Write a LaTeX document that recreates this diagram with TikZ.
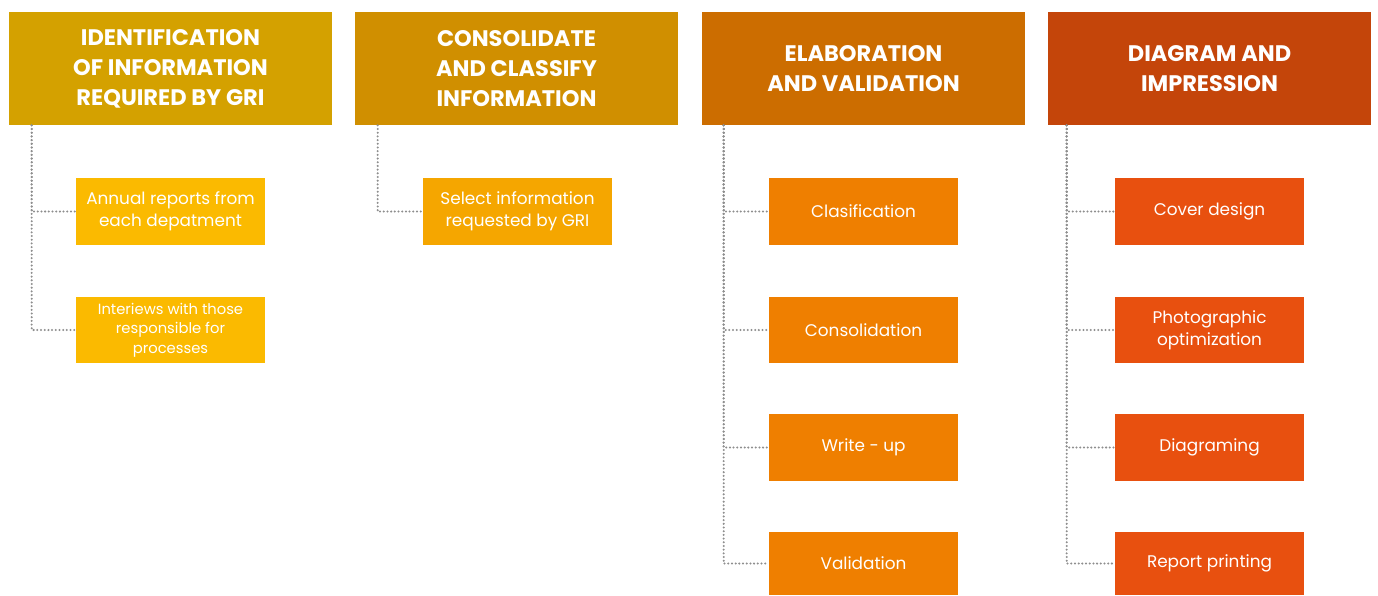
\documentclass[tikz,border=0pt]{standalone}
\usepackage{fontspec}
\setmainfont{Poppins}
\usepackage{tikz}

\definecolor{headA}{HTML}{D4A100}
\definecolor{headB}{HTML}{D08F00}
\definecolor{headC}{HTML}{CC6D00}
\definecolor{headD}{HTML}{C4450A}
\definecolor{subA}{HTML}{FBBA00}
\definecolor{subB}{HTML}{F5A600}
\definecolor{subC}{HTML}{EF7F00}
\definecolor{subD}{HTML}{E8500F}
\definecolor{dotgray}{HTML}{8E8E8E}

\tikzset{
  head/.style={minimum width=6.46cm, minimum height=2.26cm, inner sep=0pt,
    text=white, align=center, font=\fontsize{12.8}{17}\selectfont\bfseries},
  sub/.style={minimum width=3.78cm, minimum height=1.34cm, inner sep=0pt,
    text=white, align=center, font=\fontsize{9.6}{12.5}\selectfont},
  dotline/.style={dotgray, line width=1.3pt, line cap=round, dash pattern=on 0pt off 2.1pt}
}

\begin{document}
\begin{tikzpicture}[x=0.02cm,y=-0.02cm]
\useasboundingbox (0,0) rectangle (1378,595);
\def\ra{211.5} %row 1
\def\rb{330}   %row 2
\def\rc{447.5} %row 3
\def\rd{563.5} %row 4

% headers
\node[head, fill=headA] (h1) at (170.5,68.5) {IDENTIFICATION\\OF INFORMATION\\REQUIRED BY GRI};
\node[head, fill=headB] (h2) at (516.5,68.5) {CONSOLIDATE\\AND CLASSIFY\\INFORMATION};
\node[head, fill=headC] (h3) at (863.5,68.5) {ELABORATION\\AND VALIDATION};
\node[head, fill=headD] (h4) at (1209.5,68.5) {DIAGRAM AND\\IMPRESSION};

% first column
\node[sub, fill=subA] (a1) at (170.5,\ra) {Annual reports from\\each depatment};
\node[sub, fill=subA, font=\fontsize{8.4}{11}\selectfont] (a2) at (170.5,\rb) {Interiews with those\\responsible for\\processes};

% second column
\node[sub, fill=subB] (b1) at (517.5,\ra) {Select information\\requested by GRI};

% third and fourth column
\foreach \y/\t [count=\i] in {\ra/Clasification, \rb/Consolidation, \rc/Write - up}
  \node[sub, fill=subC] (c\i) at (863.5,\y) {\t};
\node[sub, fill=subC, minimum height=1.26cm] (c4) at (863.5,\rd) {Validation};

\node[sub, fill=subD] (d1) at (1209.5,\ra) {Cover design};
\node[sub, fill=subD] (d2) at (1209.5,\rb) {Photographic\\optimization};
\node[sub, fill=subD] (d3) at (1209.5,\rc) {Diagraming};
\node[sub, fill=subD, minimum height=1.26cm] (d4) at (1209.5,\rd) {Report printing};

% connectors
\foreach \n in {1,2}
  \draw[dotline] ([xshift=0.46cm]h1.south west) |- (a\n.west);
\draw[dotline] ([xshift=0.46cm]h2.south west) |- (b1.west);
\foreach \n in {1,...,4}
{
  \draw[dotline] ([xshift=0.44cm]h3.south west) |- (c\n.west);
  \draw[dotline] ([xshift=0.38cm]h4.south west) |- (d\n.west);
}
\end{tikzpicture}
\end{document}
